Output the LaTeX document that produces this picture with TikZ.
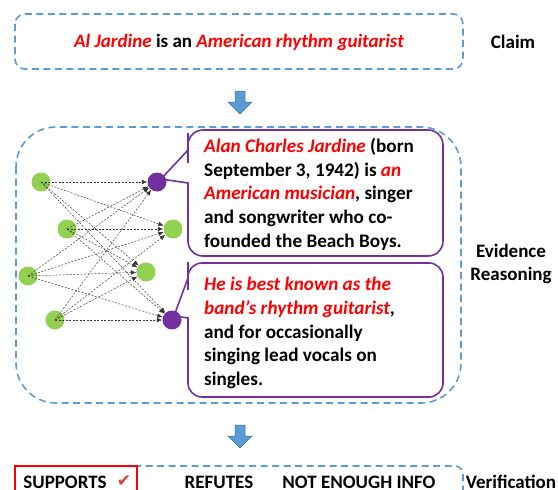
\documentclass[tikz,border=0pt]{standalone}
\usepackage{fontspec}
\setmainfont{Carlito}
\newfontfamily\symfont{DejaVu Sans}
\usetikzlibrary{arrows.meta}
\definecolor{dblue}{HTML}{5B9BD5}
\definecolor{dblueline}{HTML}{41719C}
\definecolor{hlred}{HTML}{FF0000}
\definecolor{bubblepurple}{HTML}{7030A0}
\definecolor{nodegreen}{HTML}{92D050}
\definecolor{checkred}{HTML}{D9413A}
\newcommand\hl[1]{\textcolor{hlred}{\itshape #1}}
\tikzset{
  dashbox/.style={draw=dblue, line width=1.6pt, dash pattern=on 7pt off 4.5pt},
  bubble/.style={draw=bubblepurple, line width=1.6pt, fill=white},
  gnode/.style={circle, fill=nodegreen, minimum size=19pt, inner sep=0pt},
  pnode/.style={circle, fill=bubblepurple, minimum size=19pt, inner sep=0pt},
  nnarrow/.style={draw=black!80, line width=0.45pt, dash pattern=on 2pt off 1.5pt, -{Latex[length=5.5pt,width=4.5pt]}},
  blockarrow/.style={fill=dblue, draw=dblueline, line width=0.5pt},
  txt/.style={inner sep=0pt, font=\fontsize{19}{23.7}\selectfont\bfseries},
  bubbletxt/.style={inner sep=0pt, align=left, anchor=north west, font=\fontsize{19.2}{23.7}\selectfont\bfseries},
}
\begin{document}
\begin{tikzpicture}[x=1pt,y=-1pt]
\useasboundingbox (0,0) rectangle (558,490);
% claim
\draw[dashbox, rounded corners=10pt] (15,14) rectangle (463,69);
\node[txt] (claim) at (239,42) {\hl{Al Jardine} is an \hl{American rhythm guitarist}};
\node[txt] (claimlbl) at (513,42) {Claim};
% arrow 1
\draw[blockarrow] (235,91) -- (245,91) -- (245,102) -- (252,102) -- (240,114) -- (228,102) -- (235,102) -- cycle;
% evidence box
\draw[dashbox, rounded corners=40pt] (16,127) rectangle (461,403);
% bubbles
\draw[bubble] (188,150) -- (161,179) -- (188,183) -- (188,185)
  [rounded corners=15pt] -- (188,256) -- (443,256) -- (443,130) -- (188,130) -- (188,148)
  [sharp corners] -- cycle;
\draw[bubble] (188,278) -- (174,316) -- (188,318) -- (188,320)
  [rounded corners=14pt] -- (188,397) -- (443,397) -- (443,263) -- (188,263) -- (188,276)
  [sharp corners] -- cycle;
\node[bubbletxt] (ev1) at (204,138) {\hl{Alan Charles Jardine} (born\\September 3, 1942) is \hl{an}\\\hl{American musician}, singer\\and songwriter who co-\\founded the Beach Boys.};
\node[bubbletxt] (ev2) at (204,277) {\hl{He is best known as the}\\\hl{band's rhythm guitarist},\\and for occasionally\\singing lead vocals on\\singles.};
% network
\node[gnode] (g1) at (41,182) {};
\node[gnode] (g2) at (67,229) {};
\node[gnode] (g3) at (28,276) {};
\node[gnode] (g4) at (55,320) {};
\node[pnode] (p1) at (157,182) {};
\node[gnode] (g5) at (173,229) {};
\node[gnode] (g6) at (146,272) {};
\node[pnode] (p2) at (172,320) {};
\foreach \a in {g1,g2,g3,g4}
  \foreach \b in {p1,g5,g6,p2}
    \draw[nnarrow] (\a.center) -- (\b);
\node[txt, align=center] (evlbl) at (511,264) {Evidence\\Reasoning};
% arrow 2
\draw[blockarrow] (235,425) -- (245,425) -- (245,436) -- (252,436) -- (240,448) -- (228,436) -- (235,436) -- cycle;
% verification
\draw[dashbox, rounded corners=8pt] (15,500) -- (15,466) -- (463,466) -- (463,500);
\draw[draw=hlred, line width=1.8pt, fill=white] (15,466) rectangle (137,500);
\node[txt] (sup) at (65,482) {SUPPORTS};
\node[inner sep=0pt, text=checkred, font=\symfont\fontsize{17}{17}\selectfont] (chk) at (124,481) {✔};
\node[txt] (ref) at (219,482) {REFUTES};
\node[txt] (nei) at (359,482) {NOT ENOUGH INFO};
\node[txt] (verlbl) at (511,482) {Verification};
\end{tikzpicture}
\end{document}
